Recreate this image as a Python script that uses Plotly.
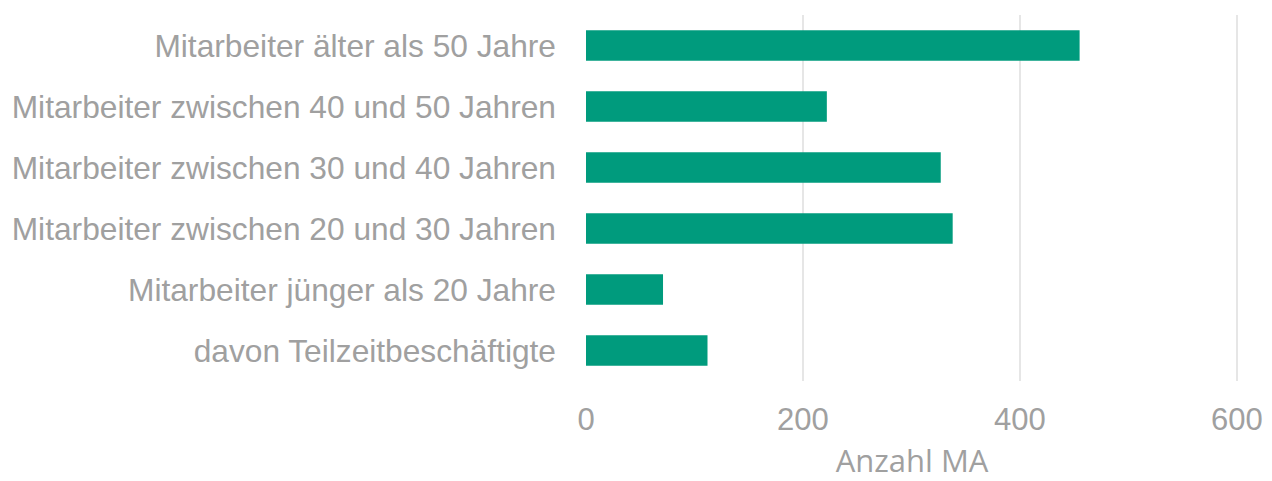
import plotly.graph_objects as go

categories = [
    "davon Teilzeitbeschäftigte",
    "Mitarbeiter jünger als 20 Jahre",
    "Mitarbeiter zwischen 20 und 30 Jahren",
    "Mitarbeiter zwischen 30 und 40 Jahren",
    "Mitarbeiter zwischen 40 und 50 Jahren",
    "Mitarbeiter älter als 50 Jahre",
]
values = [112, 71, 338, 327, 222, 455]
x_ticks = [0, 200, 400, 600]
x_title = "Anzahl MA"

fig = go.Figure(go.Bar(
    y=categories, x=values, orientation="h",
    marker=dict(color="#009B7D", line=dict(width=0)),
))

fig.update_layout(
    width=1264, height=473,
    margin=dict(l=578, r=34, t=7, b=100, autoexpand=False),
    paper_bgcolor="white", plot_bgcolor="white",
    bargap=0.5, showlegend=False,
    font=dict(family="Liberation Sans", color="#A0A0A0", size=30),
)
fig.update_xaxes(
    range=[0, 601], tickvals=x_ticks, showgrid=True, gridcolor="#E6E6E6", gridwidth=2,
    zeroline=False, showline=False, ticks="", automargin=False,
    tickfont=dict(family="Liberation Sans", size=31, color="#A0A0A0"), ticklabelstandoff=17,
    title=dict(text=x_title, font=dict(family="Open Sans", size=31, color="#A0A0A0"), standoff=21),
)
fig.update_yaxes(
    showgrid=False, zeroline=False, showline=False, ticks="", automargin=False,
    tickfont=dict(family="Liberation Sans", size=31.7, color="#A0A0A0"), ticklabelstandoff=29,
)

fig.write_html("out.html")
